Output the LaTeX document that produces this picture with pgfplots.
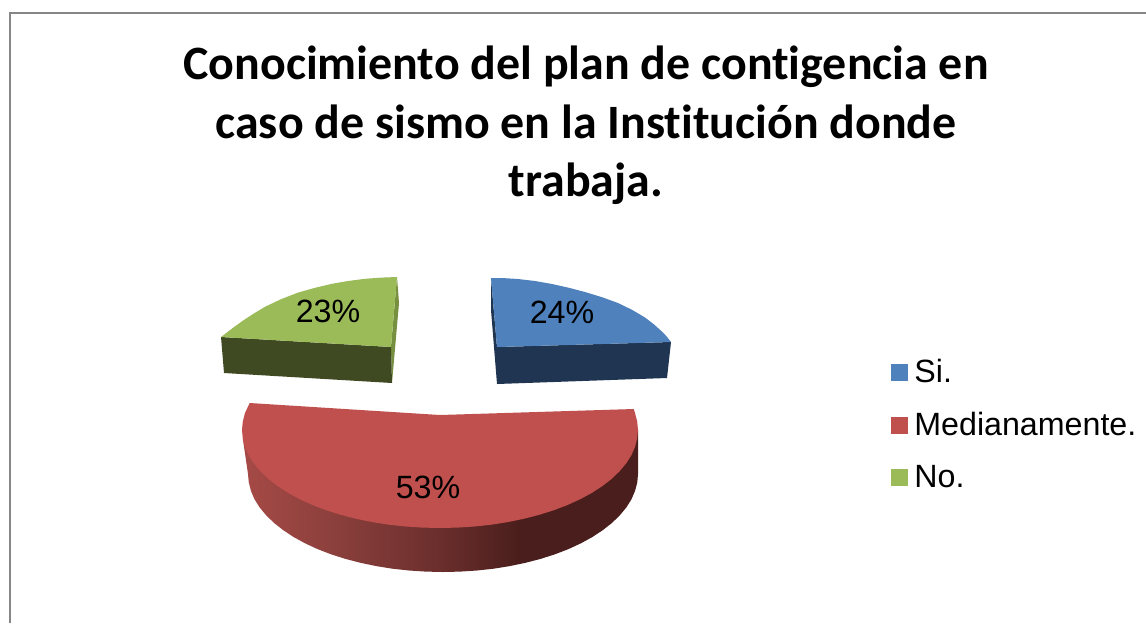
\documentclass[border=0pt]{standalone}
\usepackage{fontspec}
\setmainfont{Liberation Sans}
\newfontfamily\titlefont{Carlito}[BoldFont={Carlito Bold},Ligatures=NoCommon]
\usepackage{pgfplots}
\pgfplotsset{compat=1.18}
\definecolor{cblue}{HTML}{4F81BD}
\definecolor{cred}{HTML}{C0504D}
\definecolor{cgreen}{HTML}{9BBB59}
\definecolor{dblue}{HTML}{1F3552}
\definecolor{dgreen}{HTML}{404A22}
\definecolor{sgreen}{HTML}{76903F}
\definecolor{bordergray}{HTML}{868686}
\definecolor{rs0}{HTML}{A64A46}
\definecolor{rs1}{HTML}{8A3F3C}
\definecolor{rs2}{HTML}{6A2E2C}
\definecolor{rs3}{HTML}{4A1E1C}
\pgfdeclarehorizontalshading{redside}{100bp}{
  color(0bp)=(rs0);
  color(25bp)=(rs0);
  color(37bp)=(rs1);
  color(50bp)=(rs2);
  color(60bp)=(rs3);
  color(100bp)=(rs3)}
\begin{document}
\begin{tikzpicture}
\begin{axis}[
  scale only axis, width=573pt, height=311.5pt,
  xmin=0, xmax=1146, ymin=0, ymax=623, y dir=reverse,
  hide axis, clip=true,
  legend style={at={(axis cs:891,354.5)}, anchor=north west, draw=none, fill=none,
    font=\fontsize{16.1}{16.1}\selectfont, cells={anchor=west}, row sep=9.4pt,
    inner xsep=0pt, inner ysep=0pt,
    /tikz/every odd column/.append style={column sep=1pt}},
  legend image code/.code={\fill[#1] (0pt,-4.25pt) rectangle (8.5pt,4.25pt);},
]
% white page
\addplot[fill=white, draw=none, forget plot] coordinates {(0,0) (1146,0) (1146,623) (0,623)} -- cycle;
% frame
\addplot[bordergray, line width=1pt, forget plot] coordinates {(10,623) (10,13) (1146,13)};

% --- Medianamente: side then top
\addplot[draw=none, shading=redside, shading angle=0, forget plot] coordinates {
(242.8,438.5)(248,474)(248.8,482.5)(251,491)(254.6,499.4)(259.7,507.5)(266.3,515.4)(274.1,523)
(283.3,530.2)(293.6,537)(305.1,543.3)(317.6,549.1)(331.1,554.3)(345.5,558.9)(360.5,562.8)
(376.3,566.1)(392.5,568.7)(409.1,570.5)(426,571.6)(443,572)(460,571.6)(476.9,570.5)(493.5,568.7)
(509.7,566.1)(525.5,562.8)(540.5,558.9)(554.9,554.3)(568.4,549.1)(580.9,543.3)(592.4,537)
(602.7,530.2)(611.9,523)(619.7,515.4)(626.3,507.5)(631.4,499.4)(635,491)(637.3,482.5)(638,474)(638,430)(440,430)} -- cycle;

% --- Si: side faces
\addplot[fill=dblue, draw=none, forget plot] coordinates {(491,278)(491,310)(497,384)(497,347)} -- cycle;
\addplot[fill=dblue, draw=none, forget plot] coordinates {(497,347)(671,342)(667,378)(497,384)} -- cycle;
% --- No: side faces
\addplot[fill=sgreen, draw=none, forget plot] coordinates {(397,277)(399,303)(392,383)(391,347)} -- cycle;
\addplot[fill=dgreen, draw=none, forget plot] coordinates {(221,337)(391,347)(392,383)(224,373)} -- cycle;

% --- tops, which carry the legend
\addplot[fill=cblue, draw=none] coordinates {
(491,278)(505,278.2)(518,279)(535,281)(552,284)(569,287.8)(585,292)(602,297.2)(618,303)(632,309.8)(645,317.5)(654,324.4)(662,331.6)(667,336.8)(671,342)(497,347)} -- cycle;
\addlegendentry{Si.}
\addplot[fill=cred, draw=none] coordinates {
(249.7,403)(245,413)(242.8,421.5)(242,430)(242.8,438.5)(245,447)(248.7,455.4)(253.9,463.5)(260.6,471.4)(268.5,479)
(277.8,486.2)(288.3,493)(300,499.3)(312.7,505.1)(326.4,510.3)(341,514.9)(356.3,518.8)(372.3,522.1)(388.8,524.7)
(405.6,526.5)(422.7,527.6)(440,528)(457.3,527.6)(474.4,526.5)(491.2,524.7)(507.7,522.1)(523.7,518.8)(539,514.9)
(553.6,510.3)(567.3,505.1)(580,499.3)(591.7,493)(602.2,486.2)(611.5,479)(619.4,471.4)(626.1,463.5)(631.3,455.4)
(635,447)(637.2,438.5)(638,430)(637.2,421.5)(635,413)(633.7,409)(440,415)} -- cycle;
\addlegendentry{Medianamente.}
\addplot[fill=cgreen, draw=none] coordinates {
(397,277)(381,277.6)(365,278.8)(348,281)(332,283.8)(315,287.8)(298,292.6)(281,299.2)(265,306.8)(253,314)(242,321.3)(231,329.3)(221,337)(391,347)} -- cycle;
\addlegendentry{No.}

% data labels
\node[anchor=base, font=\fontsize{16.1}{16.1}\selectfont] at (axis cs:562,323) {24\%};
\node[anchor=base, font=\fontsize{16.1}{16.1}\selectfont] at (axis cs:428,498) {53\%};
\node[anchor=base, font=\fontsize{16.1}{16.1}\selectfont] at (axis cs:328,322) {23\%};
% title
\node[anchor=base, font=\titlefont\bfseries\fontsize{23.95}{23.95}\selectfont] at (axis cs:586,79) {Conocimiento del plan de contigencia en};
\node[anchor=base, font=\titlefont\bfseries\fontsize{23.95}{23.95}\selectfont] at (axis cs:586,138) {caso de sismo en la Institución donde};
\node[anchor=base, font=\titlefont\bfseries\fontsize{23.95}{23.95}\selectfont] at (axis cs:586,196) {trabaja.};
\end{axis}
\end{tikzpicture}
\end{document}
